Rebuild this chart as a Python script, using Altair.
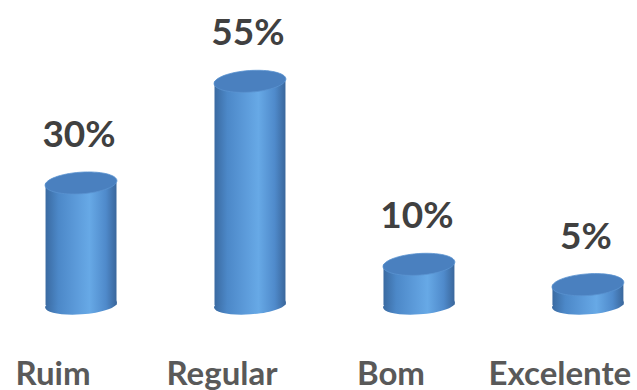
import altair as alt
import pandas as pd

categories = ["Ruim", "Regular", "Bom", "Excelente"]
values = [30, 55, 10, 5]

df = pd.DataFrame({"categoria": categories, "valor": values})

side_gradient = alt.Gradient(
    gradient="linear",
    x1=0, x2=1, y1=0, y2=0,
    stops=[
        alt.GradientStop(color="#3a6aa1", offset=0.0),
        alt.GradientStop(color="#4c88c8", offset=0.18),
        alt.GradientStop(color="#5d9cdb", offset=0.45),
        alt.GradientStop(color="#67a9e6", offset=0.62),
        alt.GradientStop(color="#4f8acb", offset=0.85),
        alt.GradientStop(color="#3a679c", offset=1.0),
    ],
)

top_shape = "M -0.9976 0.0698 A 1 0.3 -4 1 1 0.9976 -0.0698 A 1 0.3 -4 1 1 -0.9976 0.0698 Z"
bottom_shape = "M -0.9976 0.0698 A 1 0.26 -4 1 1 0.9976 -0.0698 A 1 0.26 -4 1 1 -0.9976 0.0698 Z"

xscale = alt.Scale(paddingInner=0.58, paddingOuter=0.175, align=0.77)
yscale = alt.Scale(domain=[0, 75])

x_enc = alt.X(
    "categoria:N",
    sort=categories,
    scale=xscale,
    axis=alt.Axis(
        title=None,
        labelAngle=0,
        labelFont="Lato",
        labelFontWeight="bold",
        labelFontSize=33,
        labelColor="#595959",
        labelOffset=-28,
        labelPadding=53,
        domain=False,
        ticks=False,
        grid=False,
    ),
)

base = alt.Chart(df)

bottom = base.mark_point(
    shape=bottom_shape, filled=True, fill=side_gradient, opacity=1, size=5184, strokeWidth=0
).encode(x=x_enc, y=alt.Y("zero:Q", scale=yscale, axis=None)).transform_calculate(zero="0")

body = base.mark_bar(fill=side_gradient, strokeWidth=0).encode(
    x=x_enc,
    y=alt.Y("valor:Q", scale=yscale, axis=None),
    y2=alt.Y2(datum=0),
)

top = base.mark_point(
    shape=top_shape, filled=True, fill="#4a80bf", stroke="#5b93d0", strokeWidth=0.8, opacity=1, size=5184
).encode(x=x_enc, y=alt.Y("valor:Q", scale=yscale, axis=None))

labels = base.mark_text(
    font="Lato", fontWeight="bold", fontSize=37, color="#404040", dy=-47, dx=-2, baseline="middle"
).encode(
    x=x_enc,
    y=alt.Y("valor:Q", scale=yscale, axis=None),
    text="rotulo:N",
).transform_calculate(rotulo="datum.valor + '%'")

chart = (
    alt.layer(bottom, body, top, labels)
    .properties(
        width=637,
        height=305,
        background="white",
        padding={"left": 0, "top": 0, "right": 0, "bottom": 85},
        autosize=alt.AutoSizeParams(type="none"),
    )
    .configure_view(stroke="transparent", strokeWidth=0)
    .configure_axis(grid=False, domain=False)
)

chart.save("out.html", embed_options={"renderer": "svg", "actions": False})
